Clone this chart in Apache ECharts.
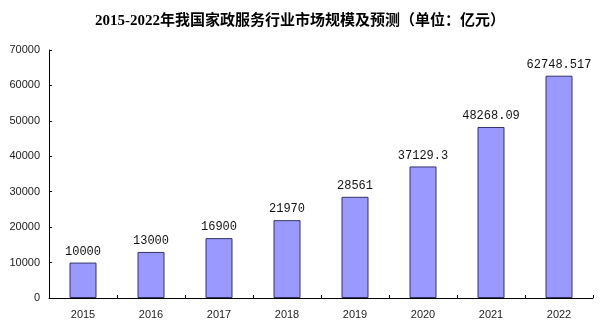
<!DOCTYPE html>
<html><head><meta charset="utf-8">
<script src="https://cdn.jsdelivr.net/npm/echarts@6/dist/echarts.min.js"></script>
<style>html,body{margin:0;padding:0;background:#fff}#c{width:600px;height:332px}</style>
</head><body><div id="c"></div>
<script>
const titleText = '2015-2022年我国家政服务行业市场规模及预测（单位：亿元）';
const categories = ['2015','2016','2017','2018','2019','2020','2021','2022'];
const values = [10000, 13000, 16900, 21970, 28561, 37129.3, 48268.09, 62748.517];
const labelTexts = ['10000','13000','16900','21970','28561','37129.3','48268.09','62748.517'];

const chart = echarts.init(document.getElementById('c'));
chart.setOption({
  animation: false,
  backgroundColor: '#fff',
  title: {
    text: titleText, left: 'center', top: 9,
    textStyle: {fontFamily: '"Liberation Serif","Noto Sans CJK SC"', fontSize: 15, fontWeight: 'bold', color: '#000'}
  },
  grid: {left: 49, right: 7, top: 50, bottom: 34},
  xAxis: {
    type: 'category', data: categories,
    axisLine: {lineStyle: {color: '#000', width: 1}},
    axisTick: {show: true, inside: true, length: 3, lineStyle: {color: '#000'}},
    axisLabel: {color: '#222', fontSize: 11, fontFamily: 'Arial, "Liberation Sans"', margin: 11}
  },
  yAxis: {
    type: 'value', min: 0, max: 70000, interval: 10000,
    axisLine: {show: true, lineStyle: {color: '#000', width: 1}},
    axisTick: {show: true, inside: true, length: 3, lineStyle: {color: '#000'}},
    splitLine: {show: false},
    axisLabel: {color: '#222', fontSize: 11, fontFamily: 'Arial, "Liberation Sans"', margin: 9,
      formatter: v => String(v)}
  },
  series: [{
    type: 'bar', data: values, barWidth: 27,
    itemStyle: {color: '#9999FF', borderColor: '#333366', borderWidth: 1},
    label: {
      show: true, position: 'top', distance: 5,
      formatter: p => labelTexts[p.dataIndex],
      fontFamily: '"Liberation Mono", monospace', fontSize: 12, color: '#111'
    }
  }]
});
</script></body></html>
